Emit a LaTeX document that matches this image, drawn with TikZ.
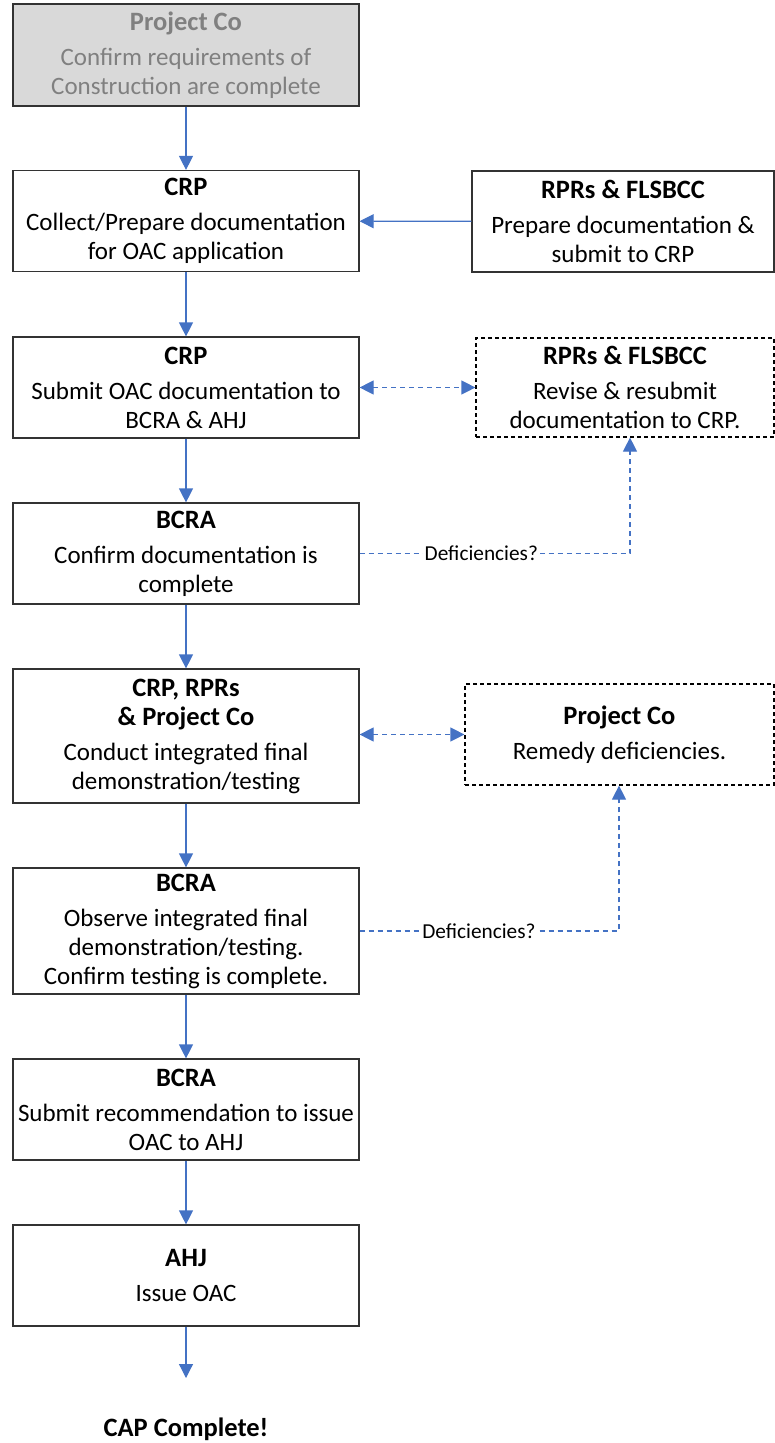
\documentclass[tikz,border=0pt]{standalone}
\usepackage{fontspec}
\setmainfont{Carlito}
\usetikzlibrary{arrows.meta}
\definecolor{flowblue}{RGB}{68,114,196}
\definecolor{boxgray}{RGB}{217,217,217}
\definecolor{textgray}{RGB}{128,128,128}
\definecolor{edgegray}{RGB}{51,51,51}
\tikzset{every picture/.style={line width=1pt}}
\newcommand{\steptitle}[1]{{\fontsize{26.5}{29}\selectfont\bfseries #1}}
\tikzset{
  stepbox/.style={draw=edgegray, line width=1.2pt, align=center, inner sep=2pt,
    minimum width=346pt, minimum height=101pt, font=\fontsize{25}{29}\selectfont},
  sidebox/.style={stepbox, minimum width=302pt},
  optbox/.style={sidebox, draw=black, dash pattern=on 4pt off 3pt},
  flowarrow/.style={draw=flowblue, line width=1.2pt, -{Triangle[width=14pt,length=14pt]}},
  dasharrow/.style={flowarrow, dash pattern=on 5pt off 4pt},
  twoway/.style={dasharrow, {Triangle[width=14pt,length=14pt]}-{Triangle[width=14pt,length=14pt]}},
  asklabel/.style={fill=white, inner sep=2pt, text=black, font=\fontsize{21.3}{24}\selectfont}
}
\begin{document}
\begin{tikzpicture}[x=1pt,y=1pt,yscale=-1,xscale=1]
\useasboundingbox (0,0) rectangle (775,1443);

%Shape: Rectangle [id:pco]
\node[stepbox, fill=boxgray, text=textgray, minimum height=102pt] (pco) at (186,55) {\steptitle{Project Co}\\[6pt] Confirm requirements of\\ Construction are complete};
%Shape: Rectangle [id:collect]
\node[stepbox] (collect) at (186,221) {\steptitle{CRP}\\[6pt] Collect/Prepare documentation\\ for OAC application};
%Shape: Rectangle [id:prepare]
\node[sidebox] (prepare) at (623,221.5) {\steptitle{RPRs \& FLSBCC}\\[6pt] Prepare documentation \&\\ submit to CRP};
%Shape: Rectangle [id:submit]
\node[stepbox] (submit) at (186,387.5) {\steptitle{CRP}\\[6pt] Submit OAC documentation to\\ BCRA \& AHJ};
%Shape: Rectangle [id:revise]
\node[optbox, minimum width=298pt, minimum height=99pt] (revise) at (625,387.5) {\steptitle{RPRs \& FLSBCC}\\[6pt] Revise \& resubmit\\ documentation to CRP.};
%Shape: Rectangle [id:check]
\node[stepbox] (check) at (186,553.5) {\steptitle{BCRA}\\[6pt] Confirm documentation is\\ complete};
%Shape: Rectangle [id:demo]
\node[stepbox, minimum height=134pt] (demo) at (186,736) {\steptitle{CRP, RPRs}\\ \steptitle{\& Project Co}\\[6pt] Conduct integrated final\\ demonstration/testing};
%Shape: Rectangle [id:remedy]
\node[optbox, minimum width=309pt] (remedy) at (619.5,734.5) {\steptitle{Project Co}\\[6pt] Remedy deficiencies.};
%Shape: Rectangle [id:observe]
\node[stepbox, minimum height=126pt] (observe) at (186,931) {\steptitle{BCRA}\\[6pt] Observe integrated final\\ demonstration/testing.\\ Confirm testing is complete.};
%Shape: Rectangle [id:recommend]
\node[stepbox] (recommend) at (186,1109.5) {\steptitle{BCRA}\\[6pt] Submit recommendation to issue\\ OAC to AHJ};
%Shape: Rectangle [id:issue]
\node[stepbox] (issue) at (186,1275.5) {\steptitle{AHJ}\\[6pt] Issue OAC};
% Text Node
\node (done) at (186,1429) {\steptitle{CAP Complete!}};

\coordinate (finish) at (186,1378);
\coordinate (ask1) at (630,553.5);
\coordinate (ask2) at (619,931);

%Straight Lines
\draw[flowarrow] (pco) -- (collect);
\draw[flowarrow] (prepare) -- (collect);
\draw[flowarrow] (collect) -- (submit);
\draw[twoway] (submit) -- (revise);
\draw[flowarrow] (submit) -- (check);
\draw[flowarrow] (check) -- (demo);
\draw[twoway] (demo.east |- remedy.west) -- (remedy.west);
\draw[flowarrow] (demo) -- (observe);
\draw[flowarrow] (observe) -- (recommend);
\draw[flowarrow] (recommend) -- (issue);
\draw[flowarrow] (issue) -- (finish);

%Dashed feedback lines
\draw[dasharrow] (check.east) -- node[asklabel, pos=0.45] {Deficiencies?} (ask1) -- (ask1 |- revise.south);
\draw[dasharrow] (observe.east) -- node[asklabel, pos=0.46] {Deficiencies?} (ask2) -- (ask2 |- remedy.south);

\end{tikzpicture}
\end{document}
